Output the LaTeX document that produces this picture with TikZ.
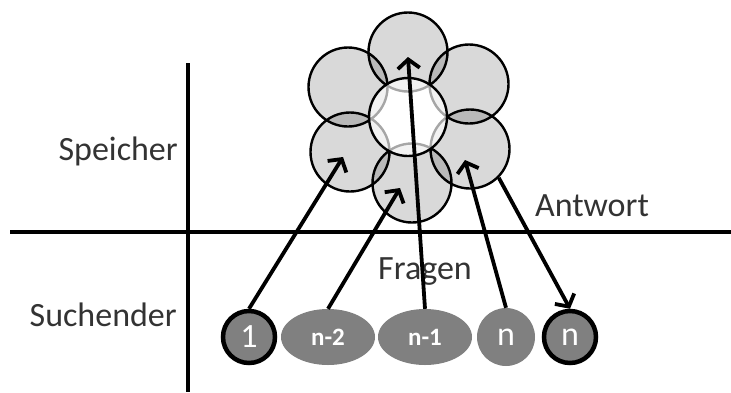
\documentclass[tikz,border=0pt]{standalone}
\usepackage{fontspec}
\setmainfont{Carlito}
\usetikzlibrary{arrows.meta,shapes.geometric}

\begin{document}
\begin{tikzpicture}[x=1pt,y=-1pt]

% Styles
\tikzset{
    achse/.style={line width=4.5pt},
    blob/.style={circle, minimum size=79pt, inner sep=0pt, draw, line width=2.4pt,
        fill=black, fill opacity=0.15, draw opacity=1},
    hub/.style={circle, minimum size=78pt, inner sep=0pt, draw, line width=2.4pt,
        fill=white, fill opacity=0.65, draw opacity=1},
    qbord/.style={circle, minimum size=52pt, inner sep=0pt, draw, line width=4.5pt,
        fill=black!50, text=white, font=\fontsize{34}{40}\selectfont},
    qplain/.style={circle, minimum size=58pt, inner sep=0pt,
        fill=black!50, text=white, font=\fontsize{34}{40}\selectfont},
    qoval/.style={ellipse, minimum width=94pt, minimum height=56pt, inner sep=0pt,
        fill=black!50, text=white, font=\fontsize{25}{30}\selectfont\bfseries},
    lbl/.style={inner sep=0pt, text=black!80, font=\fontsize{34}{40}\selectfont},
    pfeil/.style={line width=3.8pt, -{Straight Barb[length=9pt,width=22pt]}},
}

\useasboundingbox (0,0) rectangle (731,392);

% Axes
\draw[achse] (10,232) -- (731,232);
\draw[achse] (188,63) -- (188,392);

% Memory cells
\node[blob] (ul) at (348,87) {};
\node[blob] (top) at (408,52) {};
\node[blob] (ur) at (469,84) {};
\node[blob] (ll) at (350,152) {};
\node[blob] (lr) at (470,149) {};
\node[blob] (bot) at (412,183) {};
\node[hub] (mid) at (408,117) {};

% Queries
\node[qbord] (one) at (249,337) {1};
\node[qoval] (n2) at (328,337) {n-2};
\node[qoval] (n1) at (425,337) {n-1};
\node[qplain] (nq) at (506,337) {n};
\node[qbord] (nr) at (570,337) {n};

% Labels
\node[lbl, anchor=base east] (speicher) at (178,160) {Speicher};
\node[lbl, anchor=base east] (suchender) at (177,326) {Suchender};
\node[lbl, anchor=base] (antwort) at (592,216) {Antwort};
\node[lbl, anchor=base] (fragen) at (425,279) {Fragen};

% Arrows
\draw[pfeil] (one.north) -- ([shift={(-7,5)}]ll.center);
\draw[pfeil] (n2.north) -- ([shift={(-12,5)}]bot.center);
\draw[pfeil] (n1.north) -- ([shift={(0,5)}]top.center);
\draw[pfeil] (nq.north) -- ([shift={(-5,11)}]lr.center);
\draw[pfeil] (lr.-45) -- (nr.north);

\end{tikzpicture}
\end{document}
